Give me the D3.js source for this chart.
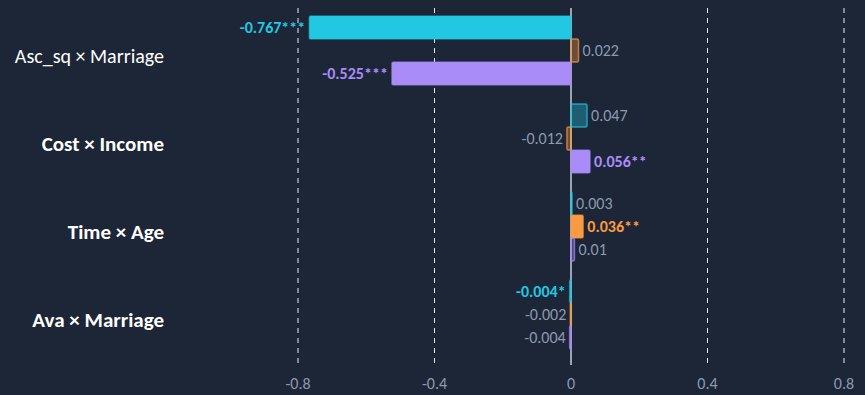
<!DOCTYPE html>
<html lang="en">
<head>
  <meta charset="UTF-8">
  <title>Interaction coefficients</title>
  <script src="https://d3js.org/d3.v7.min.js"></script>
  <style>
    body { margin: 0; background: #1c2637; }
    svg { display: block; font-family: Carlito, Lato, "Open Sans", sans-serif; }
    .tick-label { fill: #8d9ab0; font-size: 16px; }
    .cat-label { fill: #ffffff; }
  </style>
</head>
<body>
  <svg width="865" height="395"></svg>
  <script>
    // categories top to bottom
    const categories = ['Asc_sq × Marriage', 'Cost × Income', 'Time × Age', 'Ava × Marriage'];
    const boldCategory = [false, true, true, true];
    const seriesKeys = ['s1', 's2', 's3'];
    const seriesColors = ['#22c8e2', '#fb9a40', '#a98cf8'];

    // coefficient per category, one array per series
    const s1Values = [-0.767, 0.047, 0.003, -0.004];
    const s2Values = [0.022, -0.012, 0.036, -0.002];
    const s3Values = [-0.525, 0.056, 0.01, -0.004];
    const s1Stars = ['***', '', '', '*'];
    const s2Stars = ['', '', '**', ''];
    const s3Stars = ['***', '**', '', ''];

    const xTicks = [-0.8, -0.4, 0, 0.4, 0.8];
    const xTickLabels = ['-0.8', '-0.4', '0', '0.4', '0.8'];

    const allValues = [s1Values, s2Values, s3Values];
    const allStars = [s1Stars, s2Stars, s3Stars];

    const svg = d3.select('svg');
    const x = d3.scaleLinear().domain([-0.8, 0.8]).range([298, 844]);
    const y = d3.scaleBand().domain(categories).range([6.5, 358.5])
      .paddingInner(0.216).paddingOuter(0.108);
    const ySub = d3.scaleBand().domain(seriesKeys).range([0, y.bandwidth()]);
    const color = d3.scaleOrdinal(seriesKeys, seriesColors);

    // grid
    svg.append('g').selectAll('line')
      .data(xTicks)
      .join('line')
      .attr('x1', d => x(d)).attr('x2', d => x(d))
      .attr('y1', 8).attr('y2', 365)
      .attr('stroke', d => d === 0 ? '#c8ced8' : '#e8ecf2')
      .attr('stroke-width', d => d === 0 ? 1.5 : 1)
      .attr('stroke-dasharray', d => d === 0 ? null : '5,5');

    svg.append('g').selectAll('text')
      .data(xTicks)
      .join('text')
      .attr('class', 'tick-label')
      .attr('x', d => x(d))
      .attr('y', 389)
      .attr('text-anchor', 'middle')
      .text((d, i) => xTickLabels[i]);

    // category labels
    svg.append('g').selectAll('text')
      .data(categories)
      .join('text')
      .attr('class', 'cat-label')
      .attr('x', 164)
      .attr('y', d => y(d) + y.bandwidth() / 2 + 5)
      .attr('dy', '0.35em')
      .attr('text-anchor', 'end')
      .attr('font-size', (d, i) => boldCategory[i] ? 21 : 20)
      .attr('font-weight', (d, i) => boldCategory[i] ? 'bold' : 'normal')
      .text(d => d);

    const rows = [];
    categories.forEach((c, ci) => {
      seriesKeys.forEach((k, si) => {
        rows.push({ cat: c, key: k, value: allValues[si][ci], stars: allStars[si][ci] });
      });
    });

    const bars = svg.append('g');
    bars.selectAll('rect')
      .data(rows)
      .join('rect')
      .attr('x', d => Math.min(x(0), x(d.value)))
      .attr('y', d => y(d.cat) + ySub(d.key))
      .attr('width', d => Math.max(1, Math.abs(x(d.value) - x(0))))
      .attr('height', ySub.bandwidth())
      .attr('rx', 1.5)
      .attr('fill', d => color(d.key))
      .attr('fill-opacity', d => d.stars ? 1 : 0.35)
      .attr('stroke', d => color(d.key))
      .attr('stroke-opacity', d => d.stars ? 0.5 : 0.7)
      .attr('stroke-width', 1.5);

    svg.append('g').selectAll('text')
      .data(rows)
      .join('text')
      .attr('x', d => d.value < 0 ? x(d.value) - 4 : x(d.value) + 4)
      .attr('y', d => y(d.cat) + ySub(d.key) + ySub.bandwidth() / 2)
      .attr('dy', '0.35em')
      .attr('text-anchor', d => d.value < 0 ? 'end' : 'start')
      .attr('font-size', 16)
      .attr('font-weight', d => d.stars ? 'bold' : 'normal')
      .attr('fill', d => d.stars ? color(d.key) : '#8d9ab0')
      .text(d => d.value + d.stars);
  </script>
</body>
</html>
